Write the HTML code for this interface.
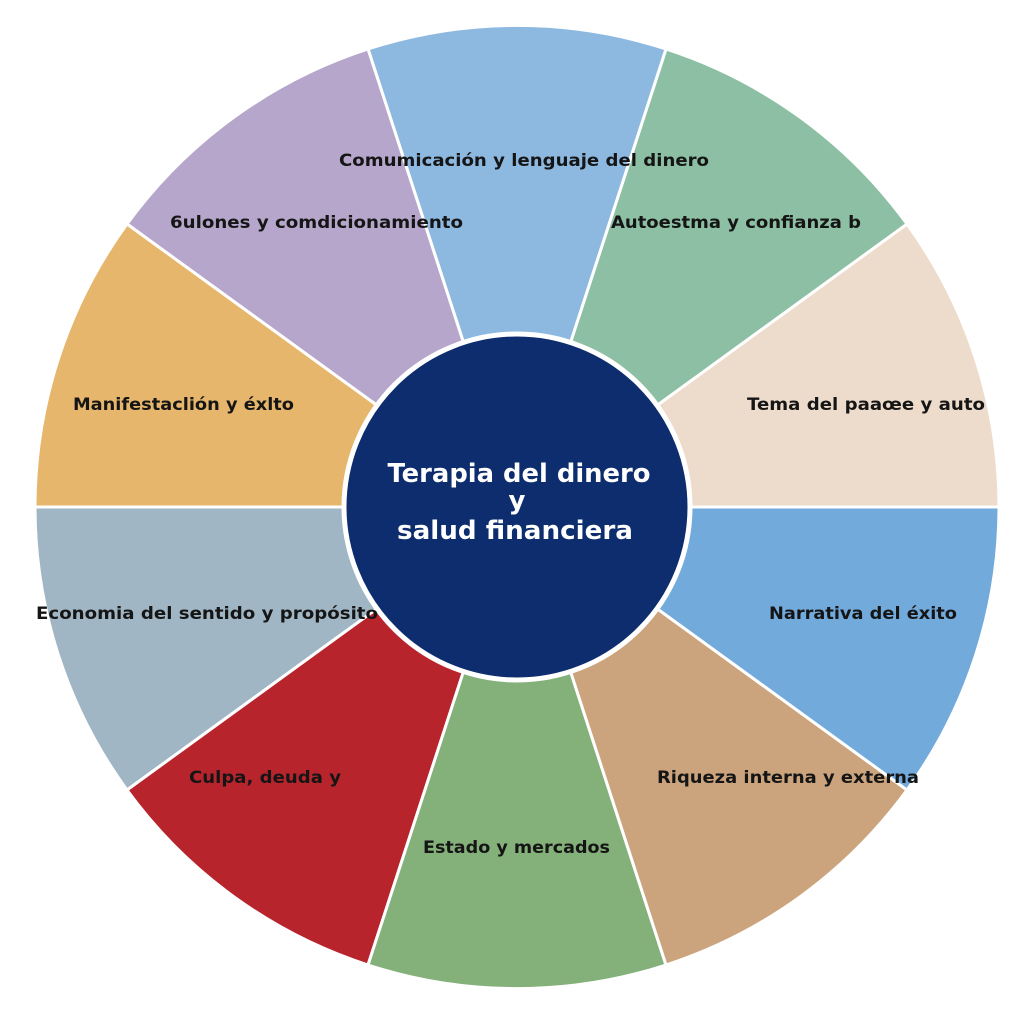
<!DOCTYPE html>
<html><head><meta charset="utf-8"><style>html,body{margin:0;padding:0;background:#fff}svg{display:block}</style></head>
<body>
<svg width="1024" height="1024" viewBox="0 0 1024 1024" xmlns="http://www.w3.org/2000/svg">
<rect width="1024" height="1024" fill="#fff"/>
<g stroke="#fff" stroke-width="3" stroke-linejoin="round">
<path d="M517,507 L999,507 A482,482 0 0 0 907,224 Z" fill="#eddccb"/>
<path d="M517,507 L907,224 A482,482 0 0 0 666,49 Z" fill="#8cbfa3"/>
<path d="M517,507 L666,49 A482,482 0 0 0 368,49 Z" fill="#8db9e0"/>
<path d="M517,507 L368,49 A482,482 0 0 0 127,224 Z" fill="#b6a6cb"/>
<path d="M517,507 L127,224 A482,482 0 0 0 35,507 Z" fill="#e5b66b"/>
<path d="M517,507 L35,507 A482,482 0 0 0 127,790 Z" fill="#a1b6c4"/>
<path d="M517,507 L127,790 A482,482 0 0 0 368,965 Z" fill="#b8242c"/>
<path d="M517,507 L368,965 A482,482 0 0 0 666,965 Z" fill="#84b07a"/>
<path d="M517,507 L666,965 A482,482 0 0 0 907,790 Z" fill="#cba47d"/>
<path d="M517,507 L907,790 A482,482 0 0 0 999,507 Z" fill="#72aadb"/>
</g>
<circle cx="517" cy="507" r="173" fill="#0d2d6e" stroke="#fff" stroke-width="5"/>
<g font-family="DejaVu Sans, Liberation Sans, sans-serif" font-weight="bold" font-size="17" fill="#151515" lengthAdjust="spacingAndGlyphs">
<text x="339" y="166" textLength="370" lengthAdjust="spacingAndGlyphs">Comumicación y lenguaje del dinero</text>
<text x="170" y="228" textLength="293" lengthAdjust="spacingAndGlyphs">6ulones y comdicionamiento</text>
<text x="611" y="228" textLength="250" lengthAdjust="spacingAndGlyphs">Autoestma y confianza b</text>
<text x="747" y="410" textLength="238" lengthAdjust="spacingAndGlyphs">Tema del paaœe y auto</text>
<text x="73" y="410" textLength="221" lengthAdjust="spacingAndGlyphs">Manifestaclión y éxlto</text>
<text x="36" y="619" textLength="342" lengthAdjust="spacingAndGlyphs">Economia del sentido y propósito</text>
<text x="769" y="619" textLength="188" lengthAdjust="spacingAndGlyphs">Narrativa del éxito</text>
<text x="657" y="783" textLength="262" lengthAdjust="spacingAndGlyphs">Riqueza interna y externa</text>
<text x="189" y="783" textLength="152" lengthAdjust="spacingAndGlyphs">Culpa, deuda y</text>
<text x="423" y="853" textLength="187" lengthAdjust="spacingAndGlyphs">Estado y mercados</text>
</g>
<g font-family="DejaVu Sans, Liberation Sans, sans-serif" font-weight="bold" font-size="26" fill="#fff" text-anchor="middle">
<text x="519" y="482" textLength="263" lengthAdjust="spacingAndGlyphs">Terapia del dinero</text>
<text x="517" y="509">y</text>
<text x="515" y="539" textLength="236" lengthAdjust="spacingAndGlyphs">salud financiera</text>
</g>
</svg>
</body></html>
